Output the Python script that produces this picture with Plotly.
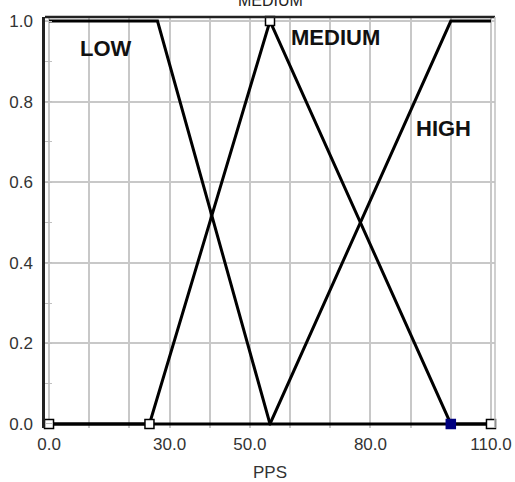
import plotly.graph_objects as go

# Membership functions for PPS
low_x = [0, 27, 55, 110]
low_y = [1, 1, 0, 0]
medium_x = [0, 25, 55, 100, 110]
medium_y = [0, 0, 1, 0, 0]
high_x = [0, 55, 100, 110]
high_y = [0, 0, 1, 1]

# Control points of the selected set (MEDIUM); index 3 is the selected point
selected_index = 3

mf_labels = ["LOW", "MEDIUM", "HIGH"]
label_x = [14.2, 71.2, 98.3]
label_y = [0.933, 0.958, 0.734]

x_grid_vals = [0, 10, 20, 30, 40, 50, 60, 70, 80, 90, 100, 110]
x_tick_text = ["0.0", "", "", "30.0", "", "50.0", "", "", "80.0", "", "", "110.0"]
y_tick_vals = [0.0, 0.2, 0.4, 0.6, 0.8, 1.0]
y_tick_text = ["0.0", "0.2", "0.4", "0.6", "0.8", "1.0"]

line_style = dict(color="black", width=3)

fig = go.Figure()
for xs, ys, name in [(low_x, low_y, "LOW"), (medium_x, medium_y, "MEDIUM"), (high_x, high_y, "HIGH")]:
    fig.add_trace(go.Scatter(x=xs, y=ys, mode="lines", line=line_style, name=name,
                             hoverinfo="skip", cliponaxis=False))

fill_colors = ["white" if i != selected_index else "#00007f" for i in range(len(medium_x))]
edge_colors = ["black" if i != selected_index else "#00007f" for i in range(len(medium_x))]
fig.add_trace(go.Scatter(
    x=medium_x, y=medium_y, mode="markers", cliponaxis=False,
    marker=dict(symbol="square", size=9, color=fill_colors,
                line=dict(color=edge_colors, width=1.5)),
    name="points"))

for t, lx, ly in zip(mf_labels, label_x, label_y):
    fig.add_annotation(x=lx, y=ly, xref="x", yref="y", text="<b>" + t + "</b>", showarrow=False,
                       font=dict(family="Liberation Sans", size=22, color="#111"),
                       xanchor="center", yanchor="middle")

# Clipped title of the selected set at the very top
fig.add_annotation(x=0.5, y=1.014, xref="paper", yref="paper", text="MEDIUM", showarrow=False,
                   font=dict(family="Liberation Sans", size=16, color="#222"),
                   xanchor="center", yanchor="bottom")

fig.add_shape(type="line", xref="paper", yref="paper", x0=0, x1=1, y0=1, y1=1,
              line=dict(color="#222", width=2.5))
fig.add_shape(type="line", xref="paper", yref="paper", x0=1, x1=1, y0=0, y1=1,
              line=dict(color="#c0c0c0", width=1.5))

fig.update_layout(
    width=515, height=482,
    margin=dict(l=45, r=20, t=17, b=54),
    paper_bgcolor="white", plot_bgcolor="white",
    showlegend=False,
    font=dict(family="Liberation Sans", color="#333"),
    xaxis=dict(range=[-1, 111], tickvals=x_grid_vals, ticktext=x_tick_text,
               showgrid=True, gridcolor="#c8c8c8", gridwidth=1.5, zeroline=False,
               showline=False, ticks="", tickfont=dict(size=17, color="#333"),
               ticklabelstandoff=4, automargin=False,
               title=dict(text="PPS", font=dict(size=17, color="#333"), standoff=20)),
    yaxis=dict(range=[-0.01, 1.01], tickvals=y_tick_vals, ticktext=y_tick_text,
               showgrid=True, gridcolor="#c8c8c8", gridwidth=1.5, zeroline=False,
               showline=True, linecolor="#222", linewidth=2.5, ticks="",
               ticklabelstandoff=6, automargin=False,
               tickfont=dict(size=17, color="#333"),
               minor=dict(dtick=0.1, ticks="inside", ticklen=7, tickcolor="#c0c0c0",
                          showgrid=False)),
)

fig.write_html("out.html", config={"displayModeBar": False},
               post_script="document.body.style.margin='0';")
